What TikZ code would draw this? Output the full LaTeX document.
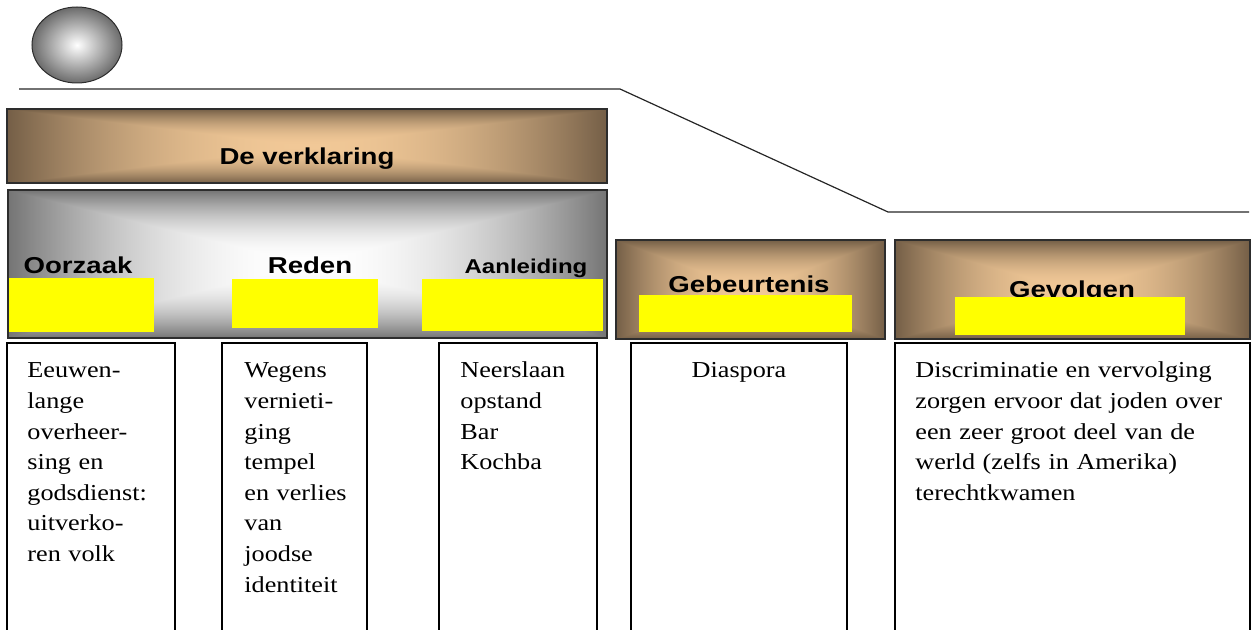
\documentclass[tikz,border=0pt]{standalone}
\usepackage{fontspec}
\setmainfont{Liberation Serif}[FakeStretch=1.15]
\setsansfont{Liberation Sans}[FakeStretch=1.2]
\usepackage{tikz}
\usetikzlibrary{shapes.geometric}

\definecolor{geel}{RGB}{255,255,0}
\definecolor{rand}{RGB}{45,45,45}

% kleurverloop vanuit het midden (rechthoekig)
\pgfdeclarefunctionalshading{bruinverloop}{\pgfpoint{-50bp}{-50bp}}{\pgfpoint{50bp}{50bp}}{}{
  abs exch abs 2 copy lt {exch} if pop 25 div dup 1 gt {pop 1} if dup mul
  dup -0.490 mul 0.945 add exch dup -0.415 mul 0.785 add exch -0.315 mul 0.592 add
}
\pgfdeclarefunctionalshading{grijsverloop}{\pgfpoint{-50bp}{-50bp}}{\pgfpoint{50bp}{50bp}}{}{
  abs exch abs 2 copy lt {exch} if pop 25 div dup 1 gt {pop 1} if dup mul
  -0.545 mul 1 add dup dup
}

% vak met kleurverloop: naam, x1, y1, x2, y2, verloop
\newcommand{\verloopvak}[6]{
\node[vakrand,shading=#6,minimum width={(#4-#2)*0.5pt},minimum height={(#5-#3)*0.5pt},anchor=north west] (#1) at (#2,#3) {};
}
% geel vlak: x1, x2, y1, y2
\newcommand{\geelvak}[4]{
\fill[geel] (#1,#3) rectangle (#2,#4);
}
% kolom onderaan: naam, x1, x2
\newcommand{\kolom}[3]{
\node[kolomrand,minimum width={(#3-#2)*0.5pt},anchor=north west] (#1) at (#2,343) {};
}

\begin{document}
\begin{tikzpicture}[x=0.5pt,y=-0.5pt,
  vakrand/.style={draw=rand,line width=0.7pt,inner sep=0pt,outer sep=0pt},
  kolomrand/.style={draw=black,line width=0.8pt,minimum height=150pt,inner sep=0pt,outer sep=0pt},
  kop/.style={font=\sffamily\bfseries\fontsize{11.5pt}{13pt}\selectfont,anchor=base,inner sep=0pt},
  tekst/.style={font=\fontsize{11.4pt}{15.3pt}\selectfont,text width=170pt,align=left,anchor=base west,inner sep=0pt},
  lijn/.style={draw=black!85,line width=0.6pt},
  bol/.style={ellipse,draw=rand,line width=0.5pt,minimum width=45pt,minimum height=38pt,
    inner sep=0pt,inner color=white,outer color=black!58}]
\useasboundingbox (0,0) rectangle (1254,630);
\clip (0,0) rectangle (1254,630);

% bol en lijn
\node[bol] (bol) at (77,45) {};
\coordinate (lijnbegin) at (19,89);
\coordinate (knikboven) at (620,89);
\coordinate (knikonder) at (888,212);
\coordinate (lijneind) at (1249,212);
\draw[lijn] (lijnbegin) -- (knikboven) -- (knikonder) -- (lijneind);

% koppen
\verloopvak{verklaring}{7}{109}{607}{183}{bruinverloop}
\verloopvak{uitleg}{8}{190}{607}{338}{grijsverloop}
\verloopvak{gebeurtenis}{616}{240}{885}{339}{bruinverloop}
\verloopvak{gevolgen}{895}{240}{1250}{339}{bruinverloop}

\node[kop] (kopverklaring) at (307,165) {De verklaring};
\node[kop] (koporzaak) at (78,274) {Oorzaak};
\node[kop] (kopreden) at (310,274) {Reden};
\node[kop,font=\sffamily\bfseries\fontsize{10pt}{12pt}\selectfont] (kopaanleiding) at (526,274) {Aanleiding};
\node[kop] (kopgebeurtenis) at (749,293) {Gebeurtenis};
\node[kop] (kopgevolgen) at (1072,298) {Gevolgen};

\geelvak{9}{154}{278}{332}
\geelvak{232}{378}{279}{328}
\geelvak{422}{603}{279}{331}
\geelvak{639}{852}{295}{332}
\geelvak{955}{1185}{297}{335}

% kolommen
\kolom{oorzaak}{7}{175}
\kolom{reden}{222}{367}
\kolom{aanleiding}{439}{597}
\kolom{diaspora}{631}{847}
\kolom{gevolg}{895}{1250}

\node[tekst] (tekstoorzaak) at ([xshift=10pt,yshift=-17.5pt]oorzaak.north west)
  {Eeuwen-\\lange\\overheer-\\sing en\\godsdienst:\\uitverko-\\ren volk};
\node[tekst] (tekstreden) at ([xshift=11pt,yshift=-17.5pt]reden.north west)
  {Wegens\\vernieti-\\ging\\tempel\\en verlies\\van\\joodse\\identiteit};
\node[tekst] (tekstaanleiding) at ([xshift=10.5pt,yshift=-17.5pt]aanleiding.north west)
  {Neerslaan\\opstand\\Bar\\Kochba};
\node[tekst,text width=,anchor=base] (tekstdiaspora) at ([yshift=-17.5pt]diaspora.north) {Diaspora};
\node[tekst] (tekstgevolg) at ([xshift=10pt,yshift=-17.5pt]gevolg.north west)
  {Discriminatie en vervolging\\zorgen ervoor dat joden over\\een zeer groot deel van de\\werld (zelfs in Amerika)\\terechtkwamen};
\end{tikzpicture}
\end{document}
